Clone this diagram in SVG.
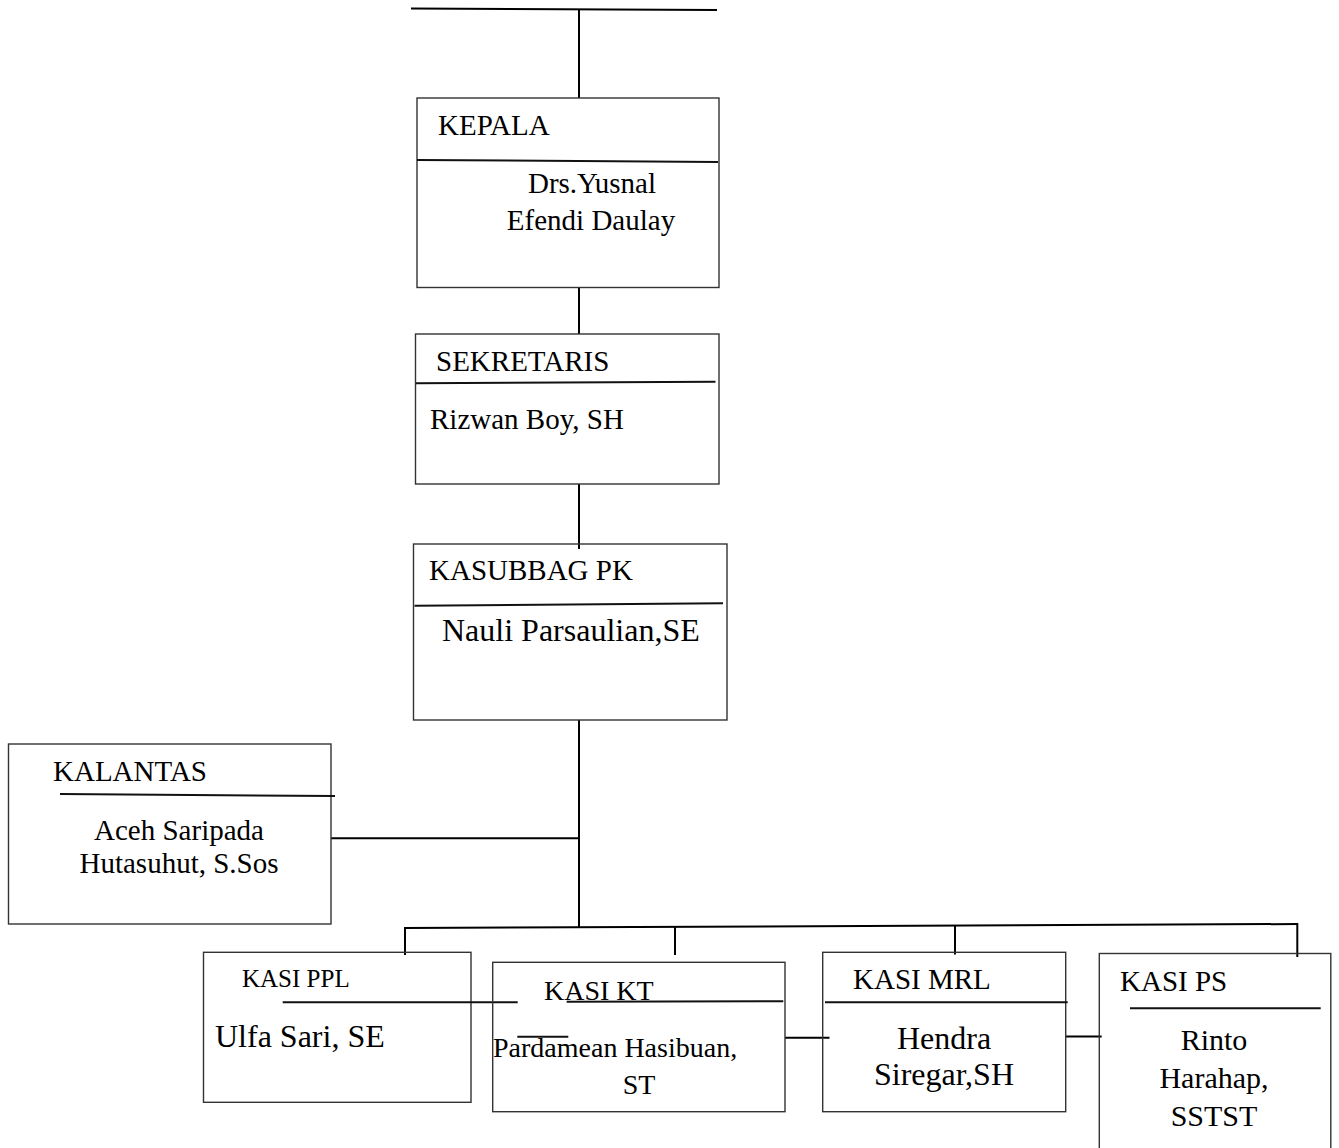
<svg xmlns="http://www.w3.org/2000/svg" width="1339" height="1148" viewBox="0 0 1339 1148">
<style>
rect.box{fill:none;stroke:#333;stroke-width:1.4}
line{stroke:#000;stroke-width:2}
.div{stroke:#111;stroke-width:2}
text{font-family:"Liberation Serif","Times New Roman",serif;fill:#000;font-size:29px}
.m{text-anchor:middle}
.b{font-size:32px}
</style>
<rect x="0" y="0" width="1339" height="1148" fill="#fff"/>
<g id="connectors">
<line x1="411" y1="8.5" x2="717" y2="10"/>
<line x1="579" y1="9" x2="579" y2="98"/>
<line x1="579" y1="288" x2="579" y2="334"/>
<line x1="579" y1="484" x2="579" y2="549"/>
<line x1="579" y1="720" x2="579" y2="927"/>
<line x1="331" y1="838.3" x2="579" y2="838.3"/>
<line x1="404" y1="928" x2="1298" y2="924"/>
<line x1="405" y1="927" x2="405" y2="955"/>
<line x1="675" y1="927" x2="675" y2="955"/>
<line x1="955" y1="925" x2="955" y2="954.5"/>
<line x1="1297.3" y1="923" x2="1297.3" y2="957"/>
<line x1="785" y1="1037.7" x2="829.5" y2="1037.7"/>
<line x1="1065.7" y1="1036.5" x2="1101.7" y2="1036.5"/>
</g>
<g id="kepala">
<rect class="box" x="417" y="98" width="302" height="189.5"/>
<line class="div" x1="417" y1="160" x2="718" y2="162"/>
<text x="438" y="135">KEPALA</text>
<text class="m" x="592" y="193">Drs.Yusnal</text>
<text class="m" x="591" y="230">Efendi Daulay</text>
</g>
<g id="sekretaris">
<rect class="box" x="415.5" y="334" width="303.5" height="150"/>
<line class="div" x1="416" y1="383.3" x2="715.5" y2="381.7"/>
<text x="436" y="371">SEKRETARIS</text>
<text x="430" y="429">Rizwan Boy, SH</text>
</g>
<g id="kasubbag">
<rect class="box" x="413.5" y="544" width="313.5" height="176"/>
<line class="div" x1="414.5" y1="605.7" x2="723" y2="603.3"/>
<text x="429" y="580">KASUBBAG PK</text>
<text class="b" x="442" y="641">Nauli Parsaulian,SE</text>
</g>
<g id="kalantas">
<rect class="box" x="8.5" y="744" width="322.5" height="180"/>
<line class="div" x1="60" y1="794" x2="335" y2="796"/>
<text x="53" y="781">KALANTAS</text>
<text class="m" x="179" y="840">Aceh Saripada</text>
<text class="m" x="179" y="873">Hutasuhut, S.Sos</text>
</g>
<g id="kasi-ppl">
<rect class="box" x="203.5" y="952.3" width="267.5" height="150"/>
<line class="div" x1="282.7" y1="1002.3" x2="517.7" y2="1002.3"/>
<text x="242" y="987" style="font-size:25px">KASI PPL</text>
<text class="b" x="215" y="1047">Ulfa Sari, SE</text>
</g>
<g id="kasi-kt">
<rect class="box" x="492.7" y="962.3" width="292.3" height="149.4"/>
<line class="div" x1="566.7" y1="1001.7" x2="783.3" y2="1001.2"/>
<line class="div" x1="517.3" y1="1036.7" x2="568.3" y2="1036.7"/>
<text x="544" y="1000" style="font-size:28px">KASI KT</text>
<text x="493" y="1057" style="font-size:28px">Pardamean Hasibuan,</text>
<text class="m" x="639" y="1094" style="font-size:28px">ST</text>
</g>
<g id="kasi-mrl">
<rect class="box" x="822.7" y="952.3" width="243" height="159.4"/>
<line class="div" x1="825" y1="1002.3" x2="1067.7" y2="1002.3"/>
<text x="853" y="989">KASI MRL</text>
<text class="m b" x="944" y="1049">Hendra</text>
<text class="m b" x="944" y="1085">Siregar,SH</text>
</g>
<g id="kasi-ps">
<rect class="box" x="1099.3" y="953.5" width="231.5" height="210"/>
<line class="div" x1="1130" y1="1008.3" x2="1320.7" y2="1008.3"/>
<text x="1120" y="991">KASI PS</text>
<text class="m" x="1214" y="1050" style="font-size:30px">Rinto</text>
<text class="m" x="1214" y="1088" style="font-size:30px">Harahap,</text>
<text class="m" x="1214" y="1126" style="font-size:30px">SSTST</text>
</g>
</svg>
